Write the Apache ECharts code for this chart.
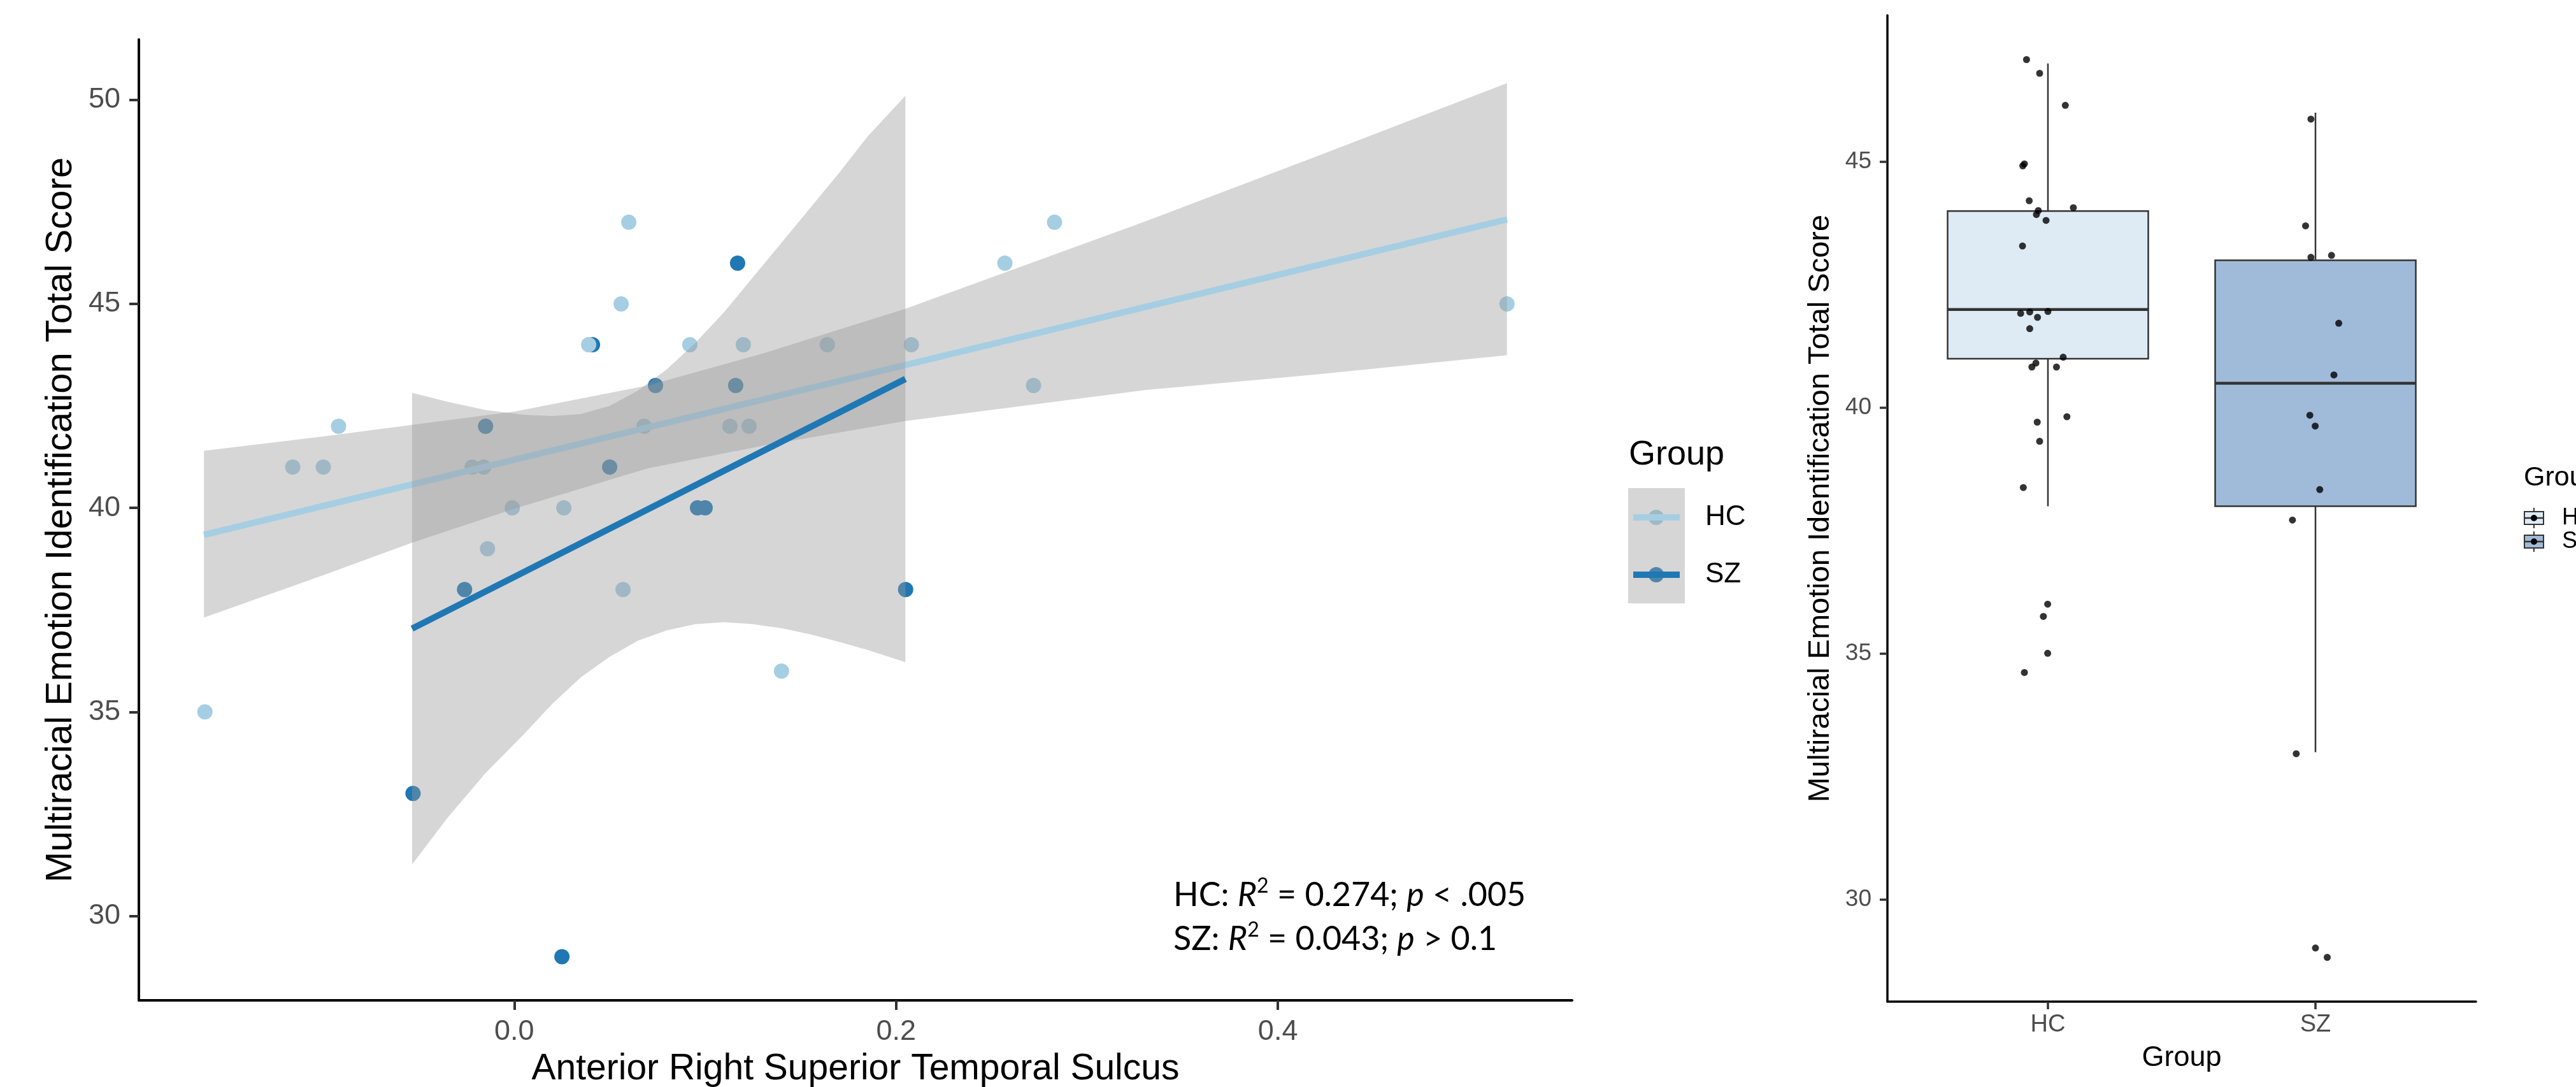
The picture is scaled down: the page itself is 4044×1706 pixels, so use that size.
<!DOCTYPE html>
<html><head><meta charset="utf-8">
<script src="https://cdn.jsdelivr.net/npm/echarts@6/dist/echarts.min.js"></script>
<style>html,body{margin:0;padding:0;background:#fff}#c{width:4044px;height:1706px}</style>
</head><body><div id="c"></div>
<script>
// ---------- Scatter panel data ----------
const hcX = [0.060, 0.283, 0.257, 0.056, 0.520, 0.039, 0.092, 0.120, 0.164, 0.208, 0.272, -0.092, 0.068, 0.113, 0.123, -0.116, -0.100, -0.022, -0.016, -0.001, 0.026, -0.014, 0.057, 0.140, -0.162];
const hcY = [47, 47, 46, 45, 45, 44, 44, 44, 44, 44, 43, 42, 42, 42, 42, 41, 41, 41, 41, 40, 40, 39, 38, 36, 35];
const szX = [0.117, 0.041, 0.074, 0.116, -0.015, 0.050, 0.096, 0.100, -0.026, 0.205, -0.053, 0.025];
const szY = [46, 44, 43, 43, 42, 41, 40, 40, 38, 38, 33, 29];

const hcFitX = [-0.1625, 0.520];
const hcFitY = [39.34, 47.07];
const szFitX = [-0.0535, 0.2049];
const szFitY = [37.04, 43.16];

const hcBandX = [-0.1625, -0.100, -0.054, 0.000, 0.070, 0.130, 0.205, 0.331, 0.420, 0.520];
const hcBandUpper = [41.40, 41.75, 42.03, 42.36, 43.00, 43.78, 44.88, 47.03, 48.61, 50.41];
const hcBandLower = [37.31, 38.35, 39.14, 39.98, 40.97, 41.52, 42.13, 42.89, 43.27, 43.74];

const szBandX = [-0.0535, -0.035, -0.015, 0.005, 0.020, 0.035, 0.050, 0.065, 0.080, 0.095, 0.110, 0.125, 0.140, 0.155, 0.170, 0.185, 0.2049];
const szBandUpper = [42.82, 42.60, 42.40, 42.28, 42.25, 42.30, 42.50, 42.88, 43.40, 44.05, 44.80, 45.65, 46.50, 47.35, 48.20, 49.10, 50.10];
const szBandLower = [31.26, 32.40, 33.50, 34.45, 35.20, 35.85, 36.35, 36.75, 37.00, 37.15, 37.20, 37.15, 37.05, 36.90, 36.72, 36.52, 36.22];

const scatterXTicks = [0.0, 0.2, 0.4];
const scatterYTicks = [30, 35, 40, 45, 50];

// ---------- Box panel data ----------
const groups = ['HC', 'SZ'];
// [lower whisker, Q1, median, Q3, upper whisker]
const boxHC = [38, 41, 42, 44, 47];
const boxSZ = [33, 38, 40.5, 43, 46];
const hcJitX = [0.920, 0.969, 1.065, 0.906, 0.912, 0.930, 1.095, 0.964, 0.957, 0.993, 0.905, 0.898, 0.932, 1.000, 0.961, 0.932, 1.057, 0.955, 0.940, 1.032, 1.071, 0.960, 0.969, 0.908, 0.999, 0.983, 0.999, 0.912];
const hcJitY = [47.08, 46.80, 46.15, 44.92, 44.96, 44.21, 44.07, 44.01, 43.93, 43.81, 43.29, 41.92, 41.95, 41.96, 41.84, 41.61, 41.03, 40.91, 40.83, 40.83, 39.82, 39.71, 39.32, 38.38, 36.01, 35.76, 35.01, 34.62];
const szJitX = [1.983, 1.963, 1.983, 2.060, 2.087, 2.069, 1.979, 1.999, 2.016, 1.914, 1.928, 2.000, 2.044];
const szJitY = [45.87, 43.70, 43.06, 43.10, 41.72, 40.67, 39.85, 39.63, 38.34, 37.72, 32.97, 29.02, 28.83];
const boxYTicks = [30, 35, 40, 45];
const groupTicks = [1, 2];

// ---------- styling ----------
const FONT = "'Liberation Sans', Arial, Helvetica, sans-serif";
const HC_COL = '#a6cee3', SZ_COL = '#1f78b4';
const RIBBON = 'rgba(153,153,153,0.4)';
const BOX_FILL = ['#deebf5', '#a0bbd9'];

const chart = echarts.init(document.getElementById('c'), null, {renderer: 'canvas'});

function bandSeries(xs, up, lo, z) {
  return {
    type: 'custom', xAxisIndex: 0, yAxisIndex: 0, z: z, silent: true, clip: true,
    data: [[xs[0], up[0]]],
    renderItem: function (params, api) {
      const pts = xs.map((x, i) => api.coord([x, up[i]]));
      for (let i = xs.length - 1; i >= 0; i--) pts.push(api.coord([xs[i], lo[i]]));
      return {type: 'polygon', shape: {points: pts}, style: {fill: RIBBON}};
    }
  };
}

function pairs(xs, ys) { return xs.map((x, i) => [x, ys[i]]); }

const axisTextGrey = '#4d4d4d';

const option = {
  animation: false,
  backgroundColor: '#fff',
  grid: [
    {left: 218, top: 62, width: 2250, height: 1508, outerBoundsMode: 'none', containLabel: false},
    {left: 2963, top: 24, width: 924, height: 1548, outerBoundsMode: 'none', containLabel: false}
  ],
  xAxis: [
    {
      type: 'value', gridIndex: 0, min: -0.1966, max: 0.5541,
      axisLine: {show: true, onZero: false, lineStyle: {color: '#000', width: 4}},
      axisTick: {show: true, length: 15, lineStyle: {color: '#333', width: 4}, customValues: scatterXTicks},
      axisLabel: {customValues: scatterXTicks, formatter: v => Number(v).toFixed(1), color: axisTextGrey, fontSize: 45, fontFamily: FONT, margin: 27},
      splitLine: {show: false},
      name: 'Anterior Right Superior Temporal Sulcus', nameLocation: 'middle', nameGap: 80,
      nameTextStyle: {color: '#000', fontSize: 57, fontFamily: FONT}
    },
    {
      type: 'value', gridIndex: 1, min: 0.4, max: 2.6,
      axisLine: {show: true, onZero: false, lineStyle: {color: '#000', width: 3.5}},
      axisTick: {show: true, length: 12, lineStyle: {color: '#333', width: 3.5}, customValues: groupTicks},
      axisLabel: {customValues: groupTicks, formatter: v => groups[Math.round(v) - 1], color: axisTextGrey, fontSize: 38, fontFamily: FONT, margin: 18},
      splitLine: {show: false},
      name: 'Group', nameLocation: 'middle', nameGap: 66,
      nameTextStyle: {color: '#000', fontSize: 45, fontFamily: FONT}
    }
  ],
  yAxis: [
    {
      type: 'value', gridIndex: 0, min: 27.93, max: 51.48,
      axisLine: {show: true, onZero: false, lineStyle: {color: '#000', width: 4}},
      axisTick: {show: true, length: 15, lineStyle: {color: '#333', width: 4}, customValues: scatterYTicks},
      axisLabel: {customValues: scatterYTicks, color: axisTextGrey, fontSize: 45, fontFamily: FONT, margin: 29},
      splitLine: {show: false},
      name: 'Multiracial Emotion Identification Total Score', nameLocation: 'middle', nameGap: 93, nameRotate: 90,
      nameTextStyle: {color: '#000', fontSize: 58, fontFamily: FONT}
    },
    {
      type: 'value', gridIndex: 1, min: 27.93, max: 47.98,
      axisLine: {show: true, onZero: false, lineStyle: {color: '#000', width: 3.5}},
      axisTick: {show: true, length: 12, lineStyle: {color: '#333', width: 3.5}, customValues: boxYTicks},
      axisLabel: {customValues: boxYTicks, color: axisTextGrey, fontSize: 37, fontFamily: FONT, margin: 25},
      splitLine: {show: false},
      name: 'Multiracial Emotion Identification Total Score', nameLocation: 'middle', nameGap: 81, nameRotate: 90,
      nameTextStyle: {color: '#000', fontSize: 47, fontFamily: FONT}
    }
  ],
  series: [
    {type: 'scatter', name: 'SZ', xAxisIndex: 0, yAxisIndex: 0, z: 2, symbolSize: 24, itemStyle: {color: SZ_COL, opacity: 1}, data: pairs(szX, szY), silent: true},
    {type: 'scatter', name: 'HC', xAxisIndex: 0, yAxisIndex: 0, z: 2, symbolSize: 24, itemStyle: {color: HC_COL, opacity: 1}, data: pairs(hcX, hcY), silent: true},
    bandSeries(hcBandX, hcBandUpper, hcBandLower, 3),
    {type: 'line', xAxisIndex: 0, yAxisIndex: 0, z: 4, showSymbol: false, silent: true, lineStyle: {color: HC_COL, width: 10, cap: 'butt'}, data: pairs(hcFitX, hcFitY)},
    bandSeries(szBandX, szBandUpper, szBandLower, 5),
    {type: 'line', xAxisIndex: 0, yAxisIndex: 0, z: 6, showSymbol: false, silent: true, lineStyle: {color: SZ_COL, width: 10, cap: 'butt'}, data: pairs(szFitX, szFitY)},
    {
      type: 'custom', xAxisIndex: 1, yAxisIndex: 1, z: 2, silent: true,
      data: [[1].concat(boxHC), [2].concat(boxSZ)],
      renderItem: function (params, api) {
        const x = api.value(0);
        const lo = api.coord([x, api.value(1)]), q1 = api.coord([x, api.value(2)]),
              md = api.coord([x, api.value(3)]), q3 = api.coord([x, api.value(4)]),
              hi = api.coord([x, api.value(5)]);
        const half = api.size([0.75, 0])[0] / 2;
        const st = {stroke: '#333', lineWidth: 2.5};
        return {type: 'group', children: [
          {type: 'line', shape: {x1: hi[0], y1: hi[1], x2: q3[0], y2: q3[1]}, style: st},
          {type: 'line', shape: {x1: q1[0], y1: q1[1], x2: lo[0], y2: lo[1]}, style: st},
          {type: 'rect', shape: {x: q3[0] - half, y: q3[1], width: 2 * half, height: q1[1] - q3[1]}, style: {fill: BOX_FILL[params.dataIndex], stroke: '#333', lineWidth: 2.5}},
          {type: 'line', shape: {x1: md[0] - half, y1: md[1], x2: md[0] + half, y2: md[1]}, style: {stroke: '#333', lineWidth: 4.5}}
        ]};
      }
    },
    {type: 'scatter', xAxisIndex: 1, yAxisIndex: 1, z: 3, symbolSize: 11, itemStyle: {color: '#000'}, data: pairs(hcJitX, hcJitY), silent: true},
    {type: 'scatter', xAxisIndex: 1, yAxisIndex: 1, z: 3, symbolSize: 11, itemStyle: {color: '#000'}, data: pairs(szJitX, szJitY), silent: true}
  ],
  graphic: [
    // annotation
    {type: 'text', x: 1842, y: 1405, z: 50, style: {
      text: '{a|HC: }{b|R}{c|2}{a| = 0.274; }{b|p}{a| < .005}', verticalAlign: 'middle', align: 'left',
      rich: {
        a: {fontFamily: 'Lato', fontSize: 52, lineHeight: 60, fill: '#000'},
        b: {fontFamily: 'Lato', fontStyle: 'italic', fontSize: 52, lineHeight: 60, fill: '#000'},
        c: {fontFamily: 'Lato', fontSize: 32, lineHeight: 34, verticalAlign: 'top', fill: '#000'}
      }}},
    {type: 'text', x: 1842, y: 1474, z: 50, style: {
      text: '{a|SZ: }{b|R}{c|2}{a| = 0.043; }{b|p}{a| > 0.1}', verticalAlign: 'middle', align: 'left',
      rich: {
        a: {fontFamily: 'Lato', fontSize: 52, lineHeight: 60, fill: '#000'},
        b: {fontFamily: 'Lato', fontStyle: 'italic', fontSize: 52, lineHeight: 60, fill: '#000'},
        c: {fontFamily: 'Lato', fontSize: 32, lineHeight: 34, verticalAlign: 'top', fill: '#000'}
      }}},
    // left legend
    {type: 'text', x: 2557, y: 714, z: 50, style: {text: 'Group', fontSize: 54, fontFamily: FONT, fill: '#000', verticalAlign: 'middle', align: 'left'}},
    {type: 'circle', z: 50, shape: {cx: 2600, cy: 812, r: 12}, style: {fill: HC_COL}},
    {type: 'circle', z: 50, shape: {cx: 2600, cy: 902, r: 12}, style: {fill: SZ_COL}},
    {type: 'rect', z: 51, shape: {x: 2556, y: 766, width: 89, height: 181}, style: {fill: RIBBON}},
    {type: 'line', z: 52, shape: {x1: 2564, y1: 812, x2: 2637, y2: 812}, style: {stroke: HC_COL, lineWidth: 10}},
    {type: 'line', z: 52, shape: {x1: 2564, y1: 902, x2: 2637, y2: 902}, style: {stroke: SZ_COL, lineWidth: 10}},
    {type: 'text', x: 2677, y: 812, z: 50, style: {text: 'HC', fontSize: 44, fontFamily: FONT, fill: '#000', verticalAlign: 'middle', align: 'left'}},
    {type: 'text', x: 2677, y: 902, z: 50, style: {text: 'SZ', fontSize: 44, fontFamily: FONT, fill: '#000', verticalAlign: 'middle', align: 'left'}},
    // right legend (cut by the page edge)
    {type: 'text', x: 3962, y: 750, z: 50, style: {text: 'Group', fontSize: 43, fontFamily: FONT, fill: '#000', verticalAlign: 'middle', align: 'left'}},
    {type: 'line', z: 50, shape: {x1: 3978, y1: 797, x2: 3978, y2: 829}, style: {stroke: '#333', lineWidth: 2}},
    {type: 'rect', z: 51, shape: {x: 3963, y: 803, width: 30, height: 20}, style: {fill: BOX_FILL[0], stroke: '#333', lineWidth: 2}},
    {type: 'line', z: 52, shape: {x1: 3963, y1: 813, x2: 3993, y2: 813}, style: {stroke: '#333', lineWidth: 2.5}},
    {type: 'circle', z: 53, shape: {cx: 3978, cy: 813, r: 5}, style: {fill: '#000'}},
    {type: 'text', x: 4022, y: 813, z: 50, style: {text: 'HC', fontSize: 36, fontFamily: FONT, fill: '#000', verticalAlign: 'middle', align: 'left'}},
    {type: 'line', z: 50, shape: {x1: 3978, y1: 834, x2: 3978, y2: 866}, style: {stroke: '#333', lineWidth: 2}},
    {type: 'rect', z: 51, shape: {x: 3963, y: 840, width: 30, height: 20}, style: {fill: BOX_FILL[1], stroke: '#333', lineWidth: 2}},
    {type: 'line', z: 52, shape: {x1: 3963, y1: 850, x2: 3993, y2: 850}, style: {stroke: '#333', lineWidth: 2.5}},
    {type: 'circle', z: 53, shape: {cx: 3978, cy: 850, r: 5}, style: {fill: '#000'}},
    {type: 'text', x: 4022, y: 850, z: 50, style: {text: 'SZ', fontSize: 36, fontFamily: FONT, fill: '#000', verticalAlign: 'middle', align: 'left'}}
  ]
};
chart.setOption(option);
</script>
</body></html>
